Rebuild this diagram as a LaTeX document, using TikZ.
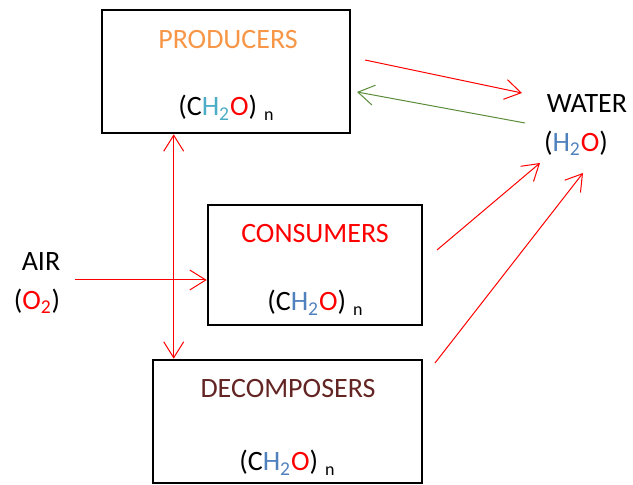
\documentclass[tikz,border=0pt]{standalone}
\usepackage{fontspec}
\setmainfont{Carlito}
\usetikzlibrary{arrows.meta,positioning,calc}

\definecolor{prodorange}{HTML}{F79646}
\definecolor{decbrown}{HTML}{632523}
\definecolor{hcyan}{HTML}{4BACC6}
\definecolor{hblue}{HTML}{4F81BD}
\definecolor{backgreen}{HTML}{5B8C3A}

\newcommand{\sugar}[1]{(C\textcolor{#1}{H\textsubscript{2}}\textcolor{red}{O})\hspace{3.5pt}{\fontsize{9}{10}\selectfont\raisebox{-2.5pt}{n}}}

\begin{document}
\begin{tikzpicture}[x=0.5pt,y=-0.5pt,font=\fontsize{14}{17}\selectfont,
    box/.style={draw, line width=1.3pt, inner sep=0pt},
    label/.style={inner sep=0pt},
    flow/.style={-{Straight Barb[length=8pt,width=10pt]}, red, line width=0.5pt}]
    \useasboundingbox (0,0) rectangle (633,485);

    % boxes
    \node[box, minimum width=124pt, minimum height=61.5pt] (producers) at (226,71.5) {};
    \node[box, minimum width=107pt, minimum height=60pt] (consumers) at (315,265) {};
    \node[box, minimum width=134.5pt, minimum height=61.5pt] (decomposers) at (287.5,421.5) {};

    % box texts
    \node[label, text=prodorange] (prodname) at (228,40) {PRODUCERS};
    \node[label] (prodchem) at (226,108) {\sugar{hcyan}};
    \node[label, text=red] (consname) at (315,234) {CONSUMERS};
    \node[label] (conschem) at (315,303) {\sugar{hblue}};
    \node[label, text=decbrown] (decname) at (288,389) {DECOMPOSERS};
    \node[label] (decchem) at (287,463) {\sugar{hblue}};

    % outside texts
    \node[label] (water) at (587,104) {WATER};
    \node[label] (waterchem) at (576,143) {(\textcolor{hblue}{H\textsubscript{2}}\textcolor{red}{O})};
    \node[label] (air) at (41,262) {AIR};
    \node[label] (airchem) at (37,301) {(\textcolor{red}{O\textsubscript{2}})};

    % free ends
    \coordinate (prodout) at (365,60);
    \coordinate (waterin) at (522,93);
    \coordinate (waterout) at (525,123);
    \coordinate (prodin) at (357,92);
    \coordinate (airout) at (75,280);
    \coordinate (consout) at (437,250);
    \coordinate (waterinc) at (540,163);
    \coordinate (decout) at (435,363);
    \coordinate (waterind) at (583,173);

    \draw[flow] (prodout) -- (waterin);
    \draw[flow, backgreen] (waterout) -- (prodin);
    \draw[flow] (airout) -- (airout -| consumers.west);
    \draw[flow, {Straight Barb[length=8pt,width=10pt]}-{Straight Barb[length=8pt,width=10pt]}] ([xshift=11pt]decomposers.north west |- producers.south) -- ([xshift=11pt]decomposers.north west);
    \draw[flow] (consout) -- (waterinc);
    \draw[flow] (decout) -- (waterind);
\end{tikzpicture}
\end{document}
